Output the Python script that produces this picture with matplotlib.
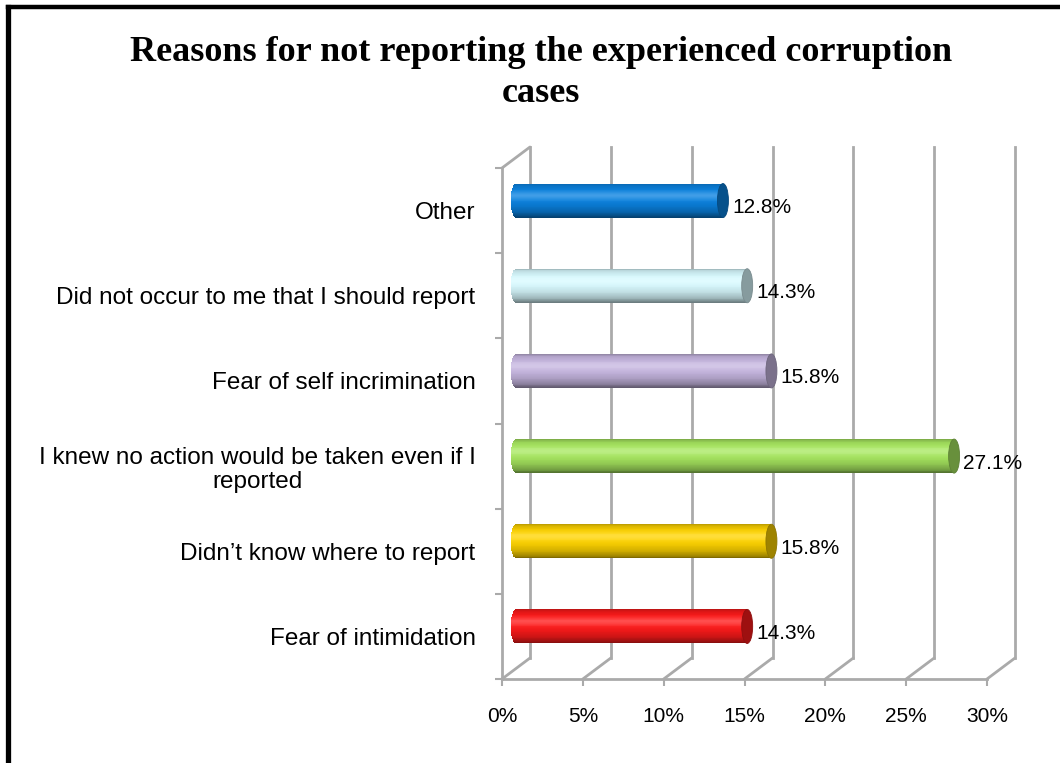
import numpy as np
import matplotlib
matplotlib.use("Agg")
import matplotlib.pyplot as plt
import matplotlib.colors as mcolors
import matplotlib.transforms as mtransforms
from matplotlib.patches import Ellipse
from matplotlib.lines import Line2D

# categories from bottom to top
reasons = [
    "Fear of intimidation",
    "Didn\u2019t know where to report",
    "I knew no action would be taken even if I\nreported",
    "Fear of self incrimination",
    "Did not occur to me that I should report",
    "Other",
]
shares = [14.3, 15.8, 27.1, 15.8, 14.3, 12.8]
bar_colors = ["#ff1a1a", "#ffd400", "#a8e860", "#c6b6e0", "#d8faff", "#0a82e0"]
xticks = [0, 5, 10, 15, 20, 25, 30]
xtick_labels = ["0%", "5%", "10%", "15%", "20%", "25%", "30%"]

W, H = 1060, 763
grid_col = "#aaaaaa"


def shade(base, t):
    # cylinder shading, t = -1 at the bottom edge, +1 at the top edge
    rgb = np.array(mcolors.to_rgb(base))
    lit = 0.3 * t + 0.95 * np.sqrt(1 - t ** 2)
    k = 0.5 + 0.5 * np.clip(lit, 0, 1)
    col = rgb[None, :] * k[:, None]
    spec = np.clip(lit, 0, 1) ** 30 * 0.25
    col = col + (1 - col) * spec[:, None]
    return np.clip(col, 0, 1)


fig = plt.figure(figsize=(W / 100, H / 100), dpi=100)
ax = fig.add_axes([502 / W, 1 - 679 / H, 485 / W, 511 / H])
ax.set_xlim(0, 30)
ax.set_ylim(-0.5, 5.5)

# depth offsets for the back wall and the middle of the bars
back = mtransforms.offset_copy(ax.transData, fig=fig, x=28, y=21, units="dots")
mid = mtransforms.offset_copy(ax.transData, fig=fig, x=14, y=10, units="dots")
lab = mtransforms.offset_copy(ax.transData, fig=fig, x=23, y=3, units="dots")

# back wall and floor
for x in xticks:
    ax.plot([x, x], [-0.5, 5.5], transform=back, color=grid_col, lw=2,
            clip_on=False, zorder=1)
    ax.annotate("", xy=(x, -0.5), xycoords=ax.transData,
                xytext=(x, -0.5), textcoords=back,
                arrowprops=dict(arrowstyle="-", color=grid_col, lw=2,
                                shrinkA=0, shrinkB=0), zorder=1)
ax.annotate("", xy=(0, 5.5), xycoords=ax.transData,
            xytext=(0, 5.5), textcoords=back,
            arrowprops=dict(arrowstyle="-", color=grid_col, lw=2,
                            shrinkA=0, shrinkB=0), zorder=1)

# cylinders
h = 0.4
a = 0.34
n = 40
ts = np.linspace(-1, 1, n + 1)
tc = (ts[:-1] + ts[1:]) / 2
for i, (val, base) in enumerate(zip(shares, bar_colors)):
    ys = i + tc * h / 2
    left = -a * np.sqrt(1 - tc ** 2)
    ax.barh(ys, val - left, left=left, height=h / n * 1.1,
            color=shade(base, tc), lw=0, transform=mid,
            clip_on=False, zorder=3)
    cap = np.array(mcolors.to_rgb(base)) * 0.62
    ax.add_patch(Ellipse((val, i), 2 * a, h, transform=mid,
                         facecolor=cap, edgecolor=cap * 0.9, lw=0.6,
                         clip_on=False, zorder=4))
    ax.text(val, i, f"{val}%", transform=lab, ha="left", va="center",
            fontsize=15, family="Liberation Sans", zorder=5)

# front axes
for side in ["top", "right"]:
    ax.spines[side].set_visible(False)
for side in ["left", "bottom"]:
    ax.spines[side].set_color(grid_col)
    ax.spines[side].set_linewidth(2)
ax.set_xticks(xticks, xtick_labels)
ax.set_yticks(np.arange(-0.5, 6, 1), [""] * 7)
ax.set_yticks(range(len(reasons)), reasons, minor=True)
ax.tick_params(axis="both", which="major", length=5, width=1.5,
               color=grid_col)
ax.tick_params(axis="x", labelsize=15, pad=15)
ax.tick_params(axis="y", which="minor", length=0, pad=19, labelsize=17.5)
for t in ax.get_xticklabels() + ax.get_yticklabels(minor=True):
    t.set_family("Liberation Sans")
for t in ax.get_yticklabels(minor=True):
    t.set_multialignment("center")
    t.set_linespacing(1.12)

fig.text(0.51, 1 - 36 / H,
         "Reasons for not reporting the experienced corruption\ncases",
         ha="center", va="top", fontsize=26, fontweight="bold",
         family="Liberation Serif", linespacing=1.3)

# outer frame (left and top edges)
fig.add_artist(Line2D([7.5 / W, 7.5 / W], [0, 1 - 7 / H], color="black",
                      lw=3.8, transform=fig.transFigure))
fig.add_artist(Line2D([7.5 / W, 1], [1 - 7 / H, 1 - 7 / H], color="black",
                      lw=3.2, transform=fig.transFigure))

fig.savefig("out.png", dpi=100)
